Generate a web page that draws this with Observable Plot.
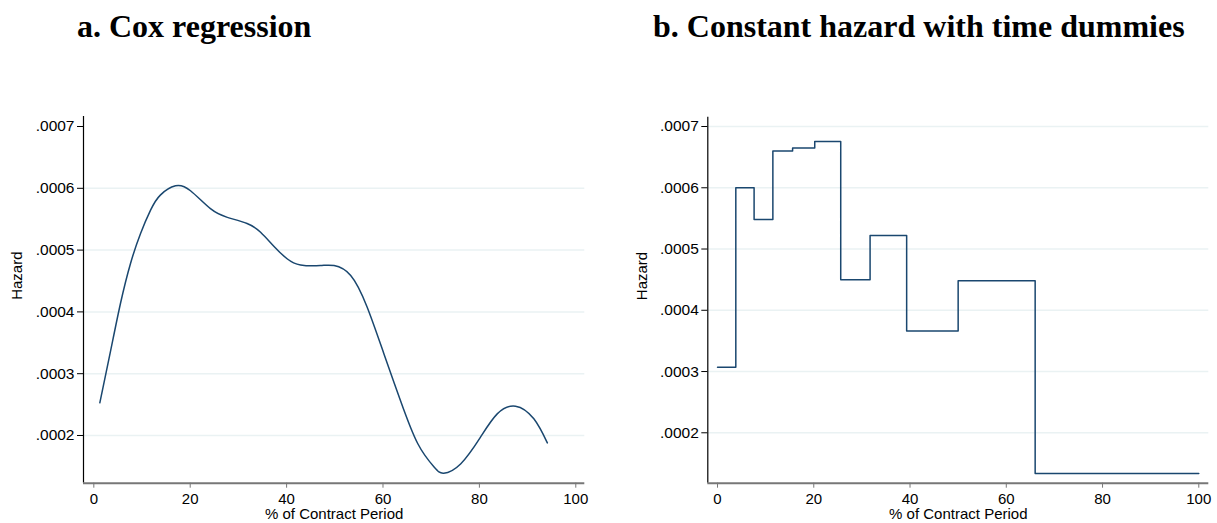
<!DOCTYPE html>
<html>
<head>
<meta charset="utf-8">
<script src="https://cdn.jsdelivr.net/npm/d3@7"></script>
<script src="https://cdn.jsdelivr.net/npm/@observablehq/plot@0.6"></script>
<style>
  html, body { margin: 0; padding: 0; background: #fff; }
  #wrap { position: relative; width: 1217px; height: 523px; background: #fff; overflow: hidden; }
  .title {
    position: absolute; top: 10px; margin: 0;
    font-family: "Liberation Serif", "Times New Roman", serif;
    font-weight: bold; font-size: 32px; line-height: 32px; color: #000; white-space: nowrap;
  }
  .panel { position: absolute; top: 100px; }
</style>
</head>
<body>
<div id="wrap">
  <div class="title" style="left:77px">a. Cox regression</div>
  <div class="title" style="left:653px">b. Constant hazard with time dummies</div>
  <div class="panel" id="left" style="left:0px"></div>
  <div class="panel" id="right" style="left:608px"></div>
</div>
<script>
// Smoothed hazard from the Cox model (% of contract period, hazard)
const coxX = [1.25, 3.46, 5.54, 7.6, 9.7, 11.8, 13.8, 16.95, 20.06, 24.2, 27.7, 31.8, 34.6, 37.4, 40.1, 42.9,
  47.0, 49.85, 53.3, 56.7, 60.2, 63.6, 67.2, 70.6, 72.6, 76.1, 80.2, 83.7, 87.5, 91.3, 94.1];
const coxHazard = [0.000253, 0.000336, 0.000414, 0.000478, 0.000527, 0.000565, 0.000589, 0.000604, 0.000596,
  0.000567, 0.000553, 0.000543, 0.000529, 0.000506, 0.000486, 0.000476, 0.000475, 0.000475, 0.000459,
  0.000408, 0.000332, 0.000257, 0.000187, 0.000149, 0.000139, 0.000154, 0.000197, 0.000235, 0.0002475,
  0.000227, 0.000188];

// Piecewise-constant hazard: interval edges and the hazard within each interval
const stepEdges = [0, 3.8, 7.6, 11.5, 15.6, 20.2, 25.6, 31.7, 39.3, 50, 66, 100];
const stepHazard = [0.000307, 0.000600, 0.000548, 0.000660, 0.000665, 0.0006755, 0.000450, 0.000522,
  0.000366, 0.000448, 0.0001335];

const xTicks = [0, 20, 40, 60, 80, 100];
const yTicks = [0.0002, 0.0003, 0.0004, 0.0005, 0.0006, 0.0007];
const leftGrid = [0.0002, 0.0003, 0.0004, 0.0005, 0.0006];
const rightGrid = [0.0002, 0.0003, 0.0004, 0.0005, 0.0006, 0.0007];

const lineColor = "#1a476f";
const gridColor = "rgb(234,242,243)";
const fmt = d => d.toFixed(4).replace(/^0/, "");

function panel({width, marginLeft, marginRight, marginTop, xDomain, yDomain, gridTicks, data}) {
  return Plot.plot({
    width, height: 423,
    marginLeft, marginRight, marginTop, marginBottom: 40.3,
    style: {fontFamily: "'Liberation Sans', Arial, sans-serif", fontSize: "15px", color: "#000", background: "#fff"},
    x: {domain: xDomain},
    y: {domain: yDomain},
    marks: [
      Plot.gridY(gridTicks, {stroke: gridColor, strokeOpacity: 1, strokeWidth: 1.5}),
      ...data,
      Plot.ruleX([xDomain[0]], {stroke: "#000", strokeWidth: 1.2}),
      Plot.ruleY([yDomain[0]], {stroke: "#777", strokeWidth: 2}),
      Plot.axisY(yTicks, {tickSize: 6, tickPadding: 3, tickFormat: fmt, label: null, stroke: "#000", fontSize: 15.5}),
      Plot.axisX(xTicks, {tickSize: 5, tickPadding: 5, label: null, stroke: "#777", fontSize: 15}),
      Plot.text(["Hazard"], {frameAnchor: "left", text: d => d, rotate: -90, dx: -66, fontSize: 15, fill: "#000"}),
      Plot.text(["% of Contract Period"], {frameAnchor: "bottom", text: d => d, lineAnchor: "bottom", dy: 35.3, fontSize: 15, fill: "#000"})
    ]
  });
}

const coxData = coxX.map((x, i) => ({x, hazard: coxHazard[i]}));
const stepData = stepEdges.map((x, i) => ({x, hazard: stepHazard[Math.min(i, stepHazard.length - 1)]}));

document.getElementById("left").append(panel({
  width: 608, marginLeft: 83, marginRight: 23.7, marginTop: 16,
  xDomain: [-2.14, 101.87], yDomain: [0.0001228, 0.0007162],
  gridTicks: leftGrid,
  data: [Plot.line(coxData, {x: "x", y: "hazard", curve: "natural", stroke: lineColor, strokeWidth: 1.5})]
}));

document.getElementById("right").append(panel({
  width: 609, marginLeft: 99.3, marginRight: 8.7, marginTop: 16.7,
  xDomain: [-2.02, 102.08], yDomain: [0.0001177, 0.0007152],
  gridTicks: rightGrid,
  data: [Plot.line(stepData, {x: "x", y: "hazard", curve: "step-after", stroke: lineColor, strokeWidth: 1.5})]
}));
</script>
</body>
</html>
